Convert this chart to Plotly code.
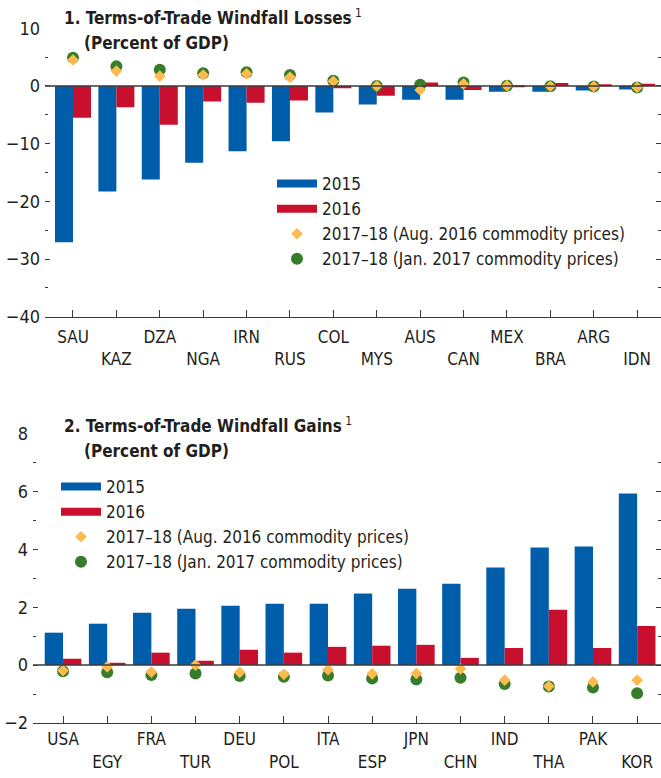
import plotly.graph_objects as go

# ---------------- data ----------------
loss_countries = ["SAU", "KAZ", "DZA", "NGA", "IRN", "RUS", "COL",
                  "MYS", "AUS", "CAN", "MEX", "BRA", "ARG", "IDN"]
loss_2015 = [-27.1, -18.3, -16.2, -13.3, -11.3, -9.6, -4.6,
             -3.2, -2.4, -2.4, -1.0, -1.0, -0.8, -0.6]
loss_2016 = [-5.5, -3.7, -6.7, -2.7, -2.9, -2.5, -0.4,
             -1.7, 0.6, -0.7, -0.1, 0.5, 0.3, 0.4]
loss_aug16 = [4.5, 2.6, 1.7, 1.9, 2.1, 1.5, 0.8,
              0.0, -0.7, 0.35, 0.05, -0.05, -0.1, -0.25]
loss_jan17 = [4.9, 3.4, 2.8, 2.2, 2.4, 1.9, 0.9,
              0.0, 0.2, 0.6, 0.05, -0.05, -0.1, -0.25]

gain_countries = ["USA", "EGY", "FRA", "TUR", "DEU", "POL", "ITA",
                  "ESP", "JPN", "CHN", "IND", "THA", "PAK", "KOR"]
gain_2015 = [1.12, 1.43, 1.81, 1.95, 2.05, 2.12, 2.12,
             2.47, 2.64, 2.81, 3.37, 4.06, 4.10, 5.93]
gain_2016 = [0.22, 0.08, 0.43, 0.15, 0.53, 0.43, 0.63,
             0.67, 0.70, 0.25, 0.59, 1.91, 0.59, 1.35]
gain_aug16 = [-0.19, -0.06, -0.24, 0.0, -0.25, -0.32, -0.16,
              -0.30, -0.29, -0.13, -0.52, -0.73, -0.58, -0.52]
gain_jan17 = [-0.21, -0.25, -0.34, -0.29, -0.38, -0.40, -0.36,
              -0.46, -0.50, -0.44, -0.65, -0.74, -0.77, -0.97]

series_names = ["2015", "2016",
                "2017–18 (Aug. 2016 commodity prices)",
                "2017–18 (Jan. 2017 commodity prices)"]
titles = ["1. Terms-of-Trade Windfall Losses", "2. Terms-of-Trade Windfall Gains"]
subtitle = "(Percent of GDP)"

# ---------------- style ----------------
BLUE = "#005DAA"
RED = "#C8102E"
YELLOW = "#FDBB4F"
GREEN = "#367C2B"
TXT = "#231F20"
AX = "#3a3a3a"
FONT = "Liberation Sans Narrow, Arial Narrow, DejaVu Sans Condensed, sans-serif"

W, H = 661, 778


def px_y(p):
    return 1 - p / H


fig = go.Figure()


def add_panel(cats, v15, v16, aug, jan, xa, ya, legend):
    fig.add_trace(go.Bar(x=cats, y=v15, marker_color=BLUE, showlegend=False,
                         xaxis=xa, yaxis=ya, marker_line_width=0))
    fig.add_trace(go.Bar(x=cats, y=v16, marker_color=RED, showlegend=False,
                         xaxis=xa, yaxis=ya, marker_line_width=0))
    # legend proxies for the bars (wide swatches)
    fig.add_trace(go.Scatter(x=[None], y=[None], mode="lines", name=series_names[0],
                             line=dict(color=BLUE, width=8), xaxis=xa, yaxis=ya,
                             legend=legend, legendrank=1))
    fig.add_trace(go.Scatter(x=[None], y=[None], mode="lines", name=series_names[1],
                             line=dict(color=RED, width=8), xaxis=xa, yaxis=ya,
                             legend=legend, legendrank=2))
    fig.add_trace(go.Scatter(x=cats, y=jan, mode="markers", name=series_names[3],
                             marker=dict(symbol="circle", size=12, color=GREEN),
                             xaxis=xa, yaxis=ya, legend=legend, legendrank=4))
    fig.add_trace(go.Scatter(x=cats, y=aug, mode="markers", name=series_names[2],
                             marker=dict(symbol="diamond", size=9, color=YELLOW),
                             xaxis=xa, yaxis=ya, legend=legend, legendrank=3))


add_panel(loss_countries, loss_2015, loss_2016, loss_aug16, loss_jan17, "x", "y", "legend")
add_panel(gain_countries, gain_2015, gain_2016, gain_aug16, gain_jan17, "x2", "y2", "legend2")


def stagger(cats):
    return [c if i % 2 == 0 else "<br>" + c for i, c in enumerate(cats)]


xcommon = dict(type="category", ticks="inside", ticklen=7, tickcolor=AX, tickwidth=1,
               showline=True, linecolor=AX, linewidth=1, showgrid=False, zeroline=False,
               tickfont=dict(family=FONT, size=17, color=TXT), fixedrange=True)
ycommon = dict(ticks="inside", ticklen=5, tickcolor=AX, tickwidth=1, mirror="ticks",
               showline=False, showgrid=False, zeroline=False, ticklabelstandoff=4,
               tickfont=dict(family=FONT, size=18, color=TXT), fixedrange=True)

fig.update_layout(
    width=W, height=H,
    margin=dict(l=0, r=0, t=0, b=0, autoexpand=False),
    paper_bgcolor="white", plot_bgcolor="white",
    barmode="group", bargap=0.17, bargroupgap=0,
    font=dict(family=FONT, size=17, color=TXT),
    xaxis=dict(xcommon, domain=[45 / W, 1], anchor="y",
               range=[-0.645, 13.55], ticklabelstandoff=5,
               tickvals=loss_countries, ticktext=stagger(loss_countries)),
    yaxis=dict(ycommon, domain=[px_y(316.7), px_y(28.3)], anchor="x",
               range=[-40, 10], dtick=10, tickformat="d",
               minor=dict(dtick=5, ticks="inside", ticklen=3, tickcolor=AX)),
    xaxis2=dict(xcommon, domain=[33 / W, 1], anchor="y2",
                range=[-0.68, 13.54], ticklabelstandoff=1,
                tickvals=gain_countries, ticktext=stagger(gain_countries)),
    yaxis2=dict(ycommon, domain=[px_y(723), px_y(433.5)], anchor="x2",
                range=[-2, 8], dtick=2,
                minor=dict(dtick=1, ticks="inside", ticklen=3, tickcolor=AX)),
    legend=dict(x=272 / W, y=px_y(166), xanchor="left", yanchor="top",
                bgcolor="rgba(0,0,0,0)", itemwidth=40, tracegroupgap=0,
                font=dict(family=FONT, size=17, color=TXT)),
    legend2=dict(x=56 / W, y=px_y(469), xanchor="left", yanchor="top",
                 bgcolor="rgba(0,0,0,0)", itemwidth=40, tracegroupgap=0,
                 font=dict(family=FONT, size=17, color=TXT)),
)

# zero reference lines drawn above bars
for ya, xa in (("y", "x"), ("y2", "x2")):
    fig.add_shape(type="line", xref=f"{xa} domain", x0=0, x1=1, yref=ya, y0=0, y1=0,
                  line=dict(color=AX, width=1.5), layer="above")

# titles
for title, y1, y2 in ((titles[0], 17, 43), (titles[1], 425, 451)):
    fig.add_annotation(text=f"<b>{title}</b><sup> 1</sup>", xref="paper", yref="paper",
                       x=62 / W, y=px_y(y1), xanchor="left", yanchor="middle",
                       showarrow=False, font=dict(family=FONT, size=17, color=TXT))
    fig.add_annotation(text=f"<b>{subtitle}</b>", xref="paper", yref="paper",
                       x=82 / W, y=px_y(y2), xanchor="left", yanchor="middle",
                       showarrow=False, font=dict(family=FONT, size=17, color=TXT))

fig.write_html("out.html", config={"displayModeBar": False},
               post_script="document.body.style.margin='0';document.body.style.overflow='hidden';")
